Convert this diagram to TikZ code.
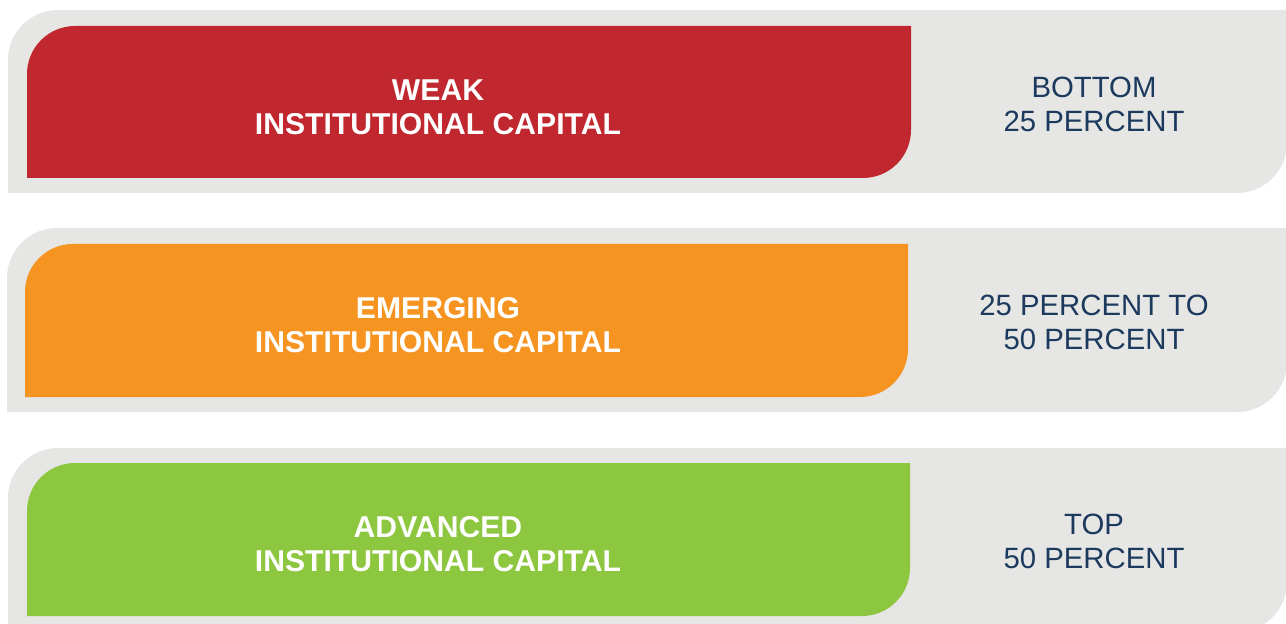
\documentclass[tikz,border=0pt]{standalone}
\usepackage{fontspec}
\setmainfont{Liberation Sans}
\usepackage{xcolor}
\usepackage{tikz}
\usetikzlibrary{positioning, calc}

\definecolor{bandgray}{RGB}{230,230,228}
\definecolor{weakred}{RGB}{193,39,46}
\definecolor{emergorange}{RGB}{246,148,34}
\definecolor{advgreen}{RGB}{141,198,63}
\definecolor{navytext}{RGB}{28,58,94}

\begin{document}
\begin{tikzpicture}[
    x=0.75pt, y=-0.75pt,
    tierlabel/.style={text=white, align=center, inner sep=0pt, font=\fontsize{22.6}{25.5}\selectfont\bfseries},
    rangelabel/.style={text=navytext, align=center, inner sep=0pt, font=\fontsize{22}{25.5}\selectfont},
]
\useasboundingbox (0,0) rectangle (1286,624);

% weak
\fill[bandgray] (8,193) -- (8,60) arc[start angle=180, end angle=270, radius=50] -- (1287,10) -- (1287,143) arc[start angle=0, end angle=90, radius=50] -- cycle;
\fill[weakred] (27,178) -- (27,74) arc[start angle=180, end angle=270, radius=48] -- (911,26) -- (911,130) arc[start angle=0, end angle=90, radius=48] -- cycle;
\node[tierlabel] (weak) at (438,107) {WEAK\\INSTITUTIONAL CAPITAL};
\node[rangelabel] (bottom) at (1094,104) {BOTTOM\\25 PERCENT};

% emerging
\fill[bandgray] (7,412) -- (7,278) arc[start angle=180, end angle=270, radius=50] -- (1287,228) -- (1287,362) arc[start angle=0, end angle=90, radius=50] -- cycle;
\fill[emergorange] (25,397) -- (25,292) arc[start angle=180, end angle=270, radius=48] -- (908,244) -- (908,349) arc[start angle=0, end angle=90, radius=48] -- cycle;
\node[tierlabel] (emerging) at (438,325) {EMERGING\\INSTITUTIONAL CAPITAL};
\node[rangelabel] (middle) at (1094,322) {25 PERCENT TO\\50 PERCENT};

% advanced
\fill[bandgray] (8,632) -- (8,498) arc[start angle=180, end angle=270, radius=50] -- (1287,448) -- (1287,582) arc[start angle=0, end angle=90, radius=50] -- cycle;
\fill[advgreen] (27,616) -- (27,511) arc[start angle=180, end angle=270, radius=48] -- (910,463) -- (910,568) arc[start angle=0, end angle=90, radius=48] -- cycle;
\node[tierlabel] (advanced) at (438,544) {ADVANCED\\INSTITUTIONAL CAPITAL};
\node[rangelabel] (top) at (1094,541) {TOP\\50 PERCENT};
\end{tikzpicture}
\end{document}
